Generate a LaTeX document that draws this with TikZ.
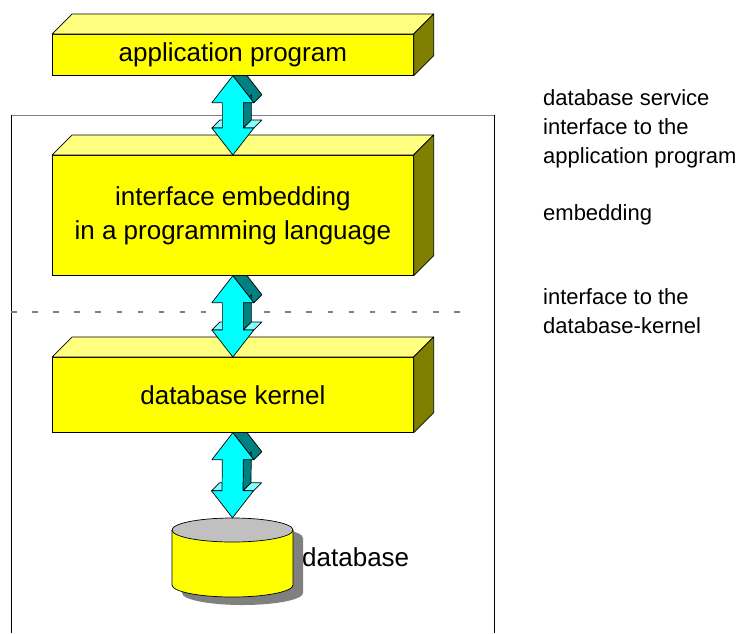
\documentclass[tikz,border=0pt]{standalone}
\usepackage{fontspec}
\setmainfont{Liberation Sans}
\usetikzlibrary{calc}
\definecolor{ylwfront}{RGB}{255,255,0}
\definecolor{ylwtop}{RGB}{255,255,128}
\definecolor{ylwside}{RGB}{128,128,0}
\definecolor{arrfront}{RGB}{0,255,255}
\definecolor{arrdark}{RGB}{0,128,128}
\definecolor{arrlight}{RGB}{128,255,255}
\definecolor{shadowgray}{RGB}{128,128,128}
\definecolor{lidgray}{RGB}{192,192,192}
\newcommand\bxfont{\fontsize{26}{34}\selectfont}
\newcommand\sdfont{\fontsize{22}{29}\selectfont}
\pgfdeclarelayer{frm}
\pgfdeclarelayer{cyl}
\pgfdeclarelayer{athree}
\pgfdeclarelayer{bthree}
\pgfdeclarelayer{atwo}
\pgfdeclarelayer{btwo}
\pgfdeclarelayer{aone}
\pgfsetlayers{frm,cyl,athree,bthree,atwo,btwo,aone,main}
\tikzset{
  outl/.style={draw=black, line width=0.7pt, line join=round},
  frontface/.style={outl, fill=ylwfront, minimum width=361pt, inner sep=0pt,
    font=\bxfont, align=center, anchor=north west},
  topface/.style={outl, fill=ylwtop},
  sideface/.style={outl, fill=ylwside},
  arrfrontst/.style={outl, fill=arrfront},
  arrdarkst/.style={outl, fill=arrdark},
  arrlightst/.style={outl, fill=arrlight},
  sidetext/.style={font=\sdfont, align=left, anchor=west, inner sep=0pt},
}
\newcommand\boxsides[1]{%
  \draw[topface] (#1.north west) -- ++(20,-20) -- ($(#1.north east)+(20,-20)$) -- (#1.north east) -- cycle;
  \draw[sideface] (#1.north east) -- ++(20,-20) -- ($(#1.south east)+(20,-20)$) -- (#1.south east) -- cycle;
}
\newcommand\dbarrow[2]{%
  \coordinate (aT) at (#1);
  \coordinate (aB) at (#2);
  \draw[arrdarkst] (aT) -- ($(aT)+(21,27)$) -- ($(aT)+(29,19)$) -- ($(aT)+(8,-8)$) -- cycle;
  \draw[arrdarkst] ($(aT)+(10.5,27)$) -- ($(aB)+(10.5,-27)$) -- ($(aB)+(18.5,-35)$) -- ($(aT)+(18.5,19)$) -- cycle;
  \draw[arrlightst] ($(aB)+(10.5,-27)$) -- ($(aB)+(21,-27)$) -- ($(aB)+(29,-35)$) -- ($(aB)+(18.5,-35)$) -- cycle;
  \draw[arrlightst] ($(aB)+(-21,-27)$) -- ($(aB)+(-10.5,-27)$) -- ($(aB)+(-2.5,-35)$) -- ($(aB)+(-13,-35)$) -- cycle;
  \draw[arrfrontst] (aT) -- ($(aT)+(21,27)$) -- ($(aT)+(10.5,27)$) -- ($(aB)+(10.5,-27)$)
     -- ($(aB)+(21,-27)$) -- (aB) -- ($(aB)+(-21,-27)$) -- ($(aB)+(-10.5,-27)$)
     -- ($(aT)+(-10.5,27)$) -- ($(aT)+(-21,27)$) -- cycle;
}
\begin{document}
\begin{tikzpicture}[x=1pt,y=-1pt]
\useasboundingbox (0,0) rectangle (742,633);
% frame
\begin{pgfonlayer}{frm}
\fill[white] (0,0) rectangle (742,633);
\draw[shadowgray, line width=1pt] (11,115) -- (494,115);
\draw[black, line width=0.8pt] (11,115) -- (11,633);
\draw[black, line width=0.8pt] (494,115) -- (494,633);
\draw[shadowgray, line width=1.3pt, dash pattern=on 5.5pt off 15.6pt] (11,312) -- (462,312);
\end{pgfonlayer}
% database cylinder
\begin{pgfonlayer}{cyl}
\node[minimum width=121pt, minimum height=79pt, inner sep=0pt] (db) at (232.5,557.5) {};
\fill[shadowgray] (182,538) -- (182,593) arc[start angle=180, end angle=0, x radius=60.5, y radius=12] -- (303,538) -- cycle;
\fill[shadowgray] (242.5,538) ellipse [x radius=60.5, y radius=12];
\draw[outl, fill=ylwfront] (172,530) -- (172,585) arc[start angle=180, end angle=0, x radius=60.5, y radius=12] -- (293,530);
\draw[outl, fill=lidgray] (232.5,530) ellipse [x radius=60.5, y radius=12];
\node[font=\bxfont, anchor=west, inner sep=0pt] (dblabel) at (302,557) {database};
\end{pgfonlayer}
% boxes
\begin{pgfonlayer}{bthree}
\node[frontface, minimum height=75pt] (kern) at (52,357) {database kernel};
\boxsides{kern}
\end{pgfonlayer}
\begin{pgfonlayer}{btwo}
\node[frontface, minimum height=120pt] (emb) at (52,155) {interface embedding\\in a programming language};
\boxsides{emb}
\end{pgfonlayer}
\node[frontface, minimum height=41pt] (app) at (52,34) {application program};
\boxsides{app}
% arrows
\begin{pgfonlayer}{athree}
\dbarrow{kern.south}{db.north}
\end{pgfonlayer}
\begin{pgfonlayer}{atwo}
\dbarrow{emb.south}{kern.north}
\end{pgfonlayer}
\begin{pgfonlayer}{aone}
\dbarrow{app.south}{emb.north}
\end{pgfonlayer}
% side texts
\node[sidetext] (t1) at (543,129) {database service\\interface to the\\application program};
\node[sidetext] (t2) at (543,215) {embedding};
\node[sidetext] (t3) at (543,311) {interface to the\\database-kernel};
\end{tikzpicture}
\end{document}
